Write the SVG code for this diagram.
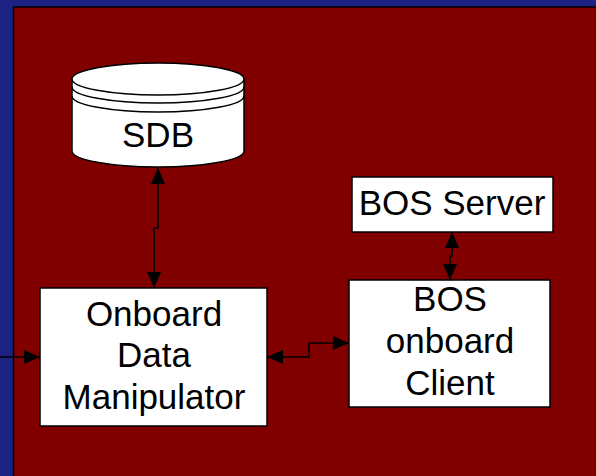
<svg xmlns="http://www.w3.org/2000/svg" width="596" height="476" viewBox="0 0 596 476">
  <defs>
    <marker id="arrow" viewBox="0 0 16 14" refX="16" refY="7" markerWidth="16" markerHeight="14" markerUnits="userSpaceOnUse" orient="auto-start-reverse">
      <path d="M0,0 L16,7 L0,14 Z" fill="#000"/>
    </marker>
  </defs>
  <style>
    .box { fill: #fff; stroke: #000; stroke-width: 1.5; }
    .label { font-family: "Liberation Sans", Arial, sans-serif; font-size: 35px; fill: #000; text-anchor: middle; }
    .conn { fill: none; stroke: #000; stroke-width: 1.5; }
  </style>

  <!-- slide background -->
  <rect x="0" y="0" width="596" height="476" fill="#1b2282"/>
  <rect x="13.5" y="7" width="583" height="470" fill="#800000" stroke="#000" stroke-width="1.5"/>

  <!-- SDB database -->
  <g id="sdb">
    <path class="box" d="M72,79 L72,151 A86,16 0 0 0 244,151 L244,79"/>
    <ellipse class="box" cx="158" cy="79" rx="86" ry="16"/>
    <path class="conn" d="M72,87 A86,16 0 0 0 244,87"/>
    <path class="conn" d="M72,96 A86,16 0 0 0 244,96"/>
    <text class="label" x="158" y="147">SDB</text>
  </g>

  <!-- Onboard Data Manipulator -->
  <g id="data-manipulator">
    <rect class="box" x="40" y="288" width="227" height="138"/>
    <text class="label" x="154" y="326">Onboard</text>
    <text class="label" x="154" y="367">Data</text>
    <text class="label" x="154" y="409">Manipulator</text>
  </g>

  <!-- BOS Server -->
  <g id="bos-server">
    <rect class="box" x="352" y="177" width="201" height="55"/>
    <text class="label" x="452" y="215" font-size="36">BOS Server</text>
  </g>

  <!-- BOS onboard Client -->
  <g id="bos-client">
    <rect class="box" x="349" y="280" width="201" height="127"/>
    <text class="label" x="450" y="311">BOS</text>
    <text class="label" x="450" y="353">onboard</text>
    <text class="label" x="450" y="395">Client</text>
  </g>

  <!-- connectors -->
  <g id="connectors">
    <path class="conn" d="M158,168 L158,228 L154,228 L154,288" marker-start="url(#arrow)" marker-end="url(#arrow)"/>
    <path class="conn" d="M0,357 L40,357" marker-end="url(#arrow)"/>
    <path class="conn" d="M267,357 L309,357 L309,343 L349,343" marker-start="url(#arrow)" marker-end="url(#arrow)"/>
    <path class="conn" d="M452,232 L452,256 L450,256 L450,280" marker-start="url(#arrow)" marker-end="url(#arrow)"/>
  </g>
</svg>
